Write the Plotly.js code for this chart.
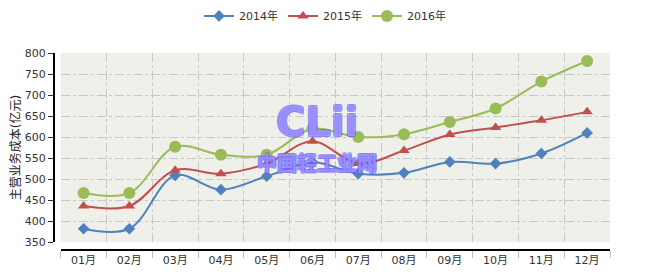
<!DOCTYPE html>
<html>
<head>
<meta charset="utf-8">
<script src="https://cdn.plot.ly/plotly-3.0.1.min.js"></script>
<style>
html,body{margin:0;padding:0;background:#fff;}
#chart{width:650px;height:278px;}
</style>
</head>
<body>
<div id="chart"></div>
<script>
const months = ["01月","02月","03月","04月","05月","06月","07月","08月","09月","10月","11月","12月"];
const seriesNames = ["2014年","2015年","2016年"];
const v2014 = [382, 382, 509, 475, 507, 540, 513, 515, 541, 537, 561, 610];
const v2015 = [436, 436, 521, 513, 537, 590, 537, 568, 606, 623, 640, 660];
const v2016 = [467, 467, 577, 558, 558, 620, 600, 607, 636, 668, 732, 781];
const yTitle = "主营业务成本(亿元)";
const wmMain = "CLii";
const wmSub = "中国轻工业网";

const colors = ["#4F81BD", "#C0504D", "#9BBB59"];
const symbols = ["diamond", "triangle-up", "circle"];
const sizes = [9, 10, 12];
const allVals = [v2014, v2015, v2016];

const font = "DejaVu Sans, Noto Sans CJK SC, sans-serif";

const traces = allVals.map((vals, i) => ({
  type: "scatter",
  mode: "lines+markers",
  name: seriesNames[i],
  x: months,
  y: vals,
  line: {color: colors[i], width: 2, shape: "spline", smoothing: 1},
  marker: {color: colors[i], symbol: symbols[i], size: sizes[i]},
  hoverinfo: "x+y+name"
}));

const L = 53, R = 40, T = 53, B = 28.5;
const pw = 650 - L - R, ph = 278 - T - B;
const wmc = "#6A5CFF";
const outline = `1px 0 0 ${wmc}, -1px 0 0 ${wmc}, 0 1px 0 ${wmc}, 0 -1px 0 ${wmc}, 1px 1px 0 ${wmc}, -1px -1px 0 ${wmc}, 1px -1px 0 ${wmc}, -1px 1px 0 ${wmc}`;

const layout = {
  width: 650, height: 278,
  margin: {l: L, r: R, t: T, b: B, pad: 0},
  paper_bgcolor: "#ffffff",
  plot_bgcolor: "#F0F0EA",
  font: {family: font, size: 11, color: "#333333"},
  showlegend: true,
  legend: {
    orientation: "h",
    xref: "container", yref: "container",
    x: 0.5, xanchor: "center",
    y: 0.995, yanchor: "top",
    font: {family: font, size: 11, color: "#333333"},
    itemwidth: 30,
    tracegroupgap: 0,
    bgcolor: "rgba(0,0,0,0)"
  },
  xaxis: {
    type: "category",
    domain: [(60.7 - L) / pw, 1],
    anchor: "free",
    position: 0,
    range: [-0.5, 11.5],
    showline: true, linecolor: "#000000", linewidth: 1.5,
    tickson: "boundaries",
    ticks: "outside", ticklen: 7, tickcolor: "#C0C0C0", tickwidth: 1,
    showgrid: true, gridcolor: "#C8C8C8", griddash: "dashdot", gridwidth: 1,
    tickfont: {family: font, size: 11, color: "#333333"},
    zeroline: false,
    fixedrange: true
  },
  yaxis: {
    domain: [(249.5 - 242.7) / ph, 1],
    anchor: "free",
    position: 0,
    range: [350, 800],
    dtick: 50,
    showline: true, linecolor: "#000000", linewidth: 1.5,
    ticks: "outside", ticklen: 5, tickcolor: "#333333", tickwidth: 1,
    showgrid: true, gridcolor: "#C8C8C8", griddash: "dashdot", gridwidth: 1,
    tickfont: {family: font, size: 11, color: "#333333"},
    title: {text: yTitle, font: {family: font, size: 12, color: "#222222"}, standoff: 0},
    zeroline: false,
    fixedrange: true
  },
  annotations: [
    {xref: "x", yref: "paper", x: 5.1, y: (249.5 - 122) / ph, text: "<b>" + wmMain + "</b>",
     showarrow: false, font: {family: "DejaVu Sans, sans-serif", size: 40, color: "rgba(235,235,255,0.35)", shadow: outline}},
    {xref: "x", yref: "paper", x: 5.1, y: (249.5 - 163) / ph, text: "<b>" + wmSub + "</b>",
     showarrow: false, font: {family: "Noto Sans CJK SC, sans-serif", size: 20, color: "rgba(220,215,255,0.4)", shadow: outline}}
  ]
};

Plotly.newPlot("chart", traces, layout, {displayModeBar: false, staticPlot: true});
</script>
</body>
</html>
